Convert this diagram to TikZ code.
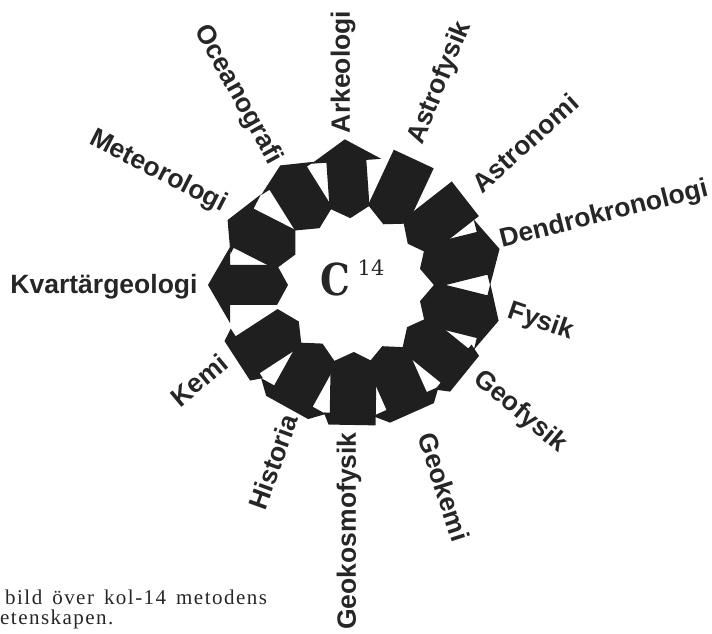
\documentclass[tikz,border=0pt]{standalone}
\usepackage{fontspec}
\usepackage{graphicx}
\setmainfont{Liberation Sans}
\newfontfamily\cfont{DejaVu Serif}
\newfontfamily\captionfont[LetterSpace=7]{Liberation Serif}
\newcommand{\widespaces}{\spaceskip=10pt\relax}
\begin{document}
\begin{tikzpicture}[x=1pt,y=1pt,
  blk/.style={fill=black!88, draw=none},
  lab/.style={font=\fontsize{26.5}{26.5}\selectfont\bfseries, inner sep=0pt, text=black!85},
  captext/.style={font=\captionfont\fontsize{21}{21}\selectfont, inner sep=0pt, anchor=base west, text=black!85}
]
\useasboundingbox (0,0) rectangle (712,634);
\coordinate (O) at (355,349);

% ring of arrow blocks (local x = radial, y = counter-clockwise)
\fill[blk,shift={(O)},rotate=94]  (67,0)--(78,20)--(124,20)--(124,35)--(146,0)--(124,-35)--(124,-20)--(78,-20)--cycle; % Arkeologi
\fill[blk,shift={(O)},rotate=65]  (67,0)--(78,22)--(139,22)--(139,-22)--(78,-22)--cycle; % Astrofysik
\fill[blk,shift={(O)},rotate=38]  (67,0)--(78,22)--(140,22)--(140,-22)--(78,-22)--cycle; % Astronomi
\fill[blk,shift={(O)},rotate=14]  (67,0)--(78,22)--(131,22)--(131,35)--(149,0)--(131,-33)--(131,-22)--(78,-22)--cycle; % Dendrokronologi
\fill[blk,shift={(O)},rotate=-14] (67,0)--(78,22)--(131,22)--(131,34)--(148,0)--(131,-34)--(131,-22)--(78,-22)--cycle; % Fysik
\fill[blk,shift={(O)},rotate=-39] (67,0)--(78,22)--(128,22)--(128,27)--(141,23)--(141,-23)--(128,-31)--(128,-22)--(78,-22)--cycle; % Geofysik
\fill[blk,shift={(O)},rotate=-66] (67,0)--(78,22)--(127,22)--(127,35)--(140,24)--(140,-24)--(127,-37)--(127,-22)--(78,-22)--cycle; % Geokemi
\fill[blk,shift={(O)},rotate=-91] (67,0)--(78,23)--(140,23)--(140,-24)--(128,-29)--(128,-23)--(78,-23)--cycle; % Geokosmofysik
\fill[blk,shift={(O)},rotate=-119](67,0)--(78,22)--(127,22)--(127,37)--(140,24)--(140,-24)--(127,-37)--(127,-22)--(78,-22)--cycle; % Historia
\fill[blk,shift={(O)},rotate=-147](67,0)--(78,22)--(128,22)--(128,28)--(140,23)--(140,-24)--(128,-31)--(128,-22)--(78,-22)--cycle; % Kemi
\fill[blk,shift={(O)},rotate=180] (67,0)--(78,20)--(125,20)--(125,38)--(147,0)--(125,-38)--(125,-20)--(78,-20)--cycle; % Kvartaergeologi
\fill[blk,shift={(O)},rotate=153] (67,0)--(78,22)--(125,22)--(125,29)--(143,0)--(125,-38)--(125,-22)--(78,-22)--cycle; % Meteorologi
\fill[blk,shift={(O)},rotate=122] (67,0)--(78,22)--(126,22)--(126,32)--(141,0)--(126,-31)--(126,-22)--(78,-22)--cycle; % Oceanografi

% centre text
\node[inner sep=0pt, text=black!85] (cc) at (335,355) {\cfont\bfseries\fontsize{44}{44}\selectfont\scalebox{0.85}[1]{C}};
\node[inner sep=0pt, text=black!85] (n14) at (371,366) {\cfont\fontsize{21}{21}\selectfont 14};

% labels
\node[lab, rotate=90]  (ark) at (343,562) {Arkeologi};
\node[lab, rotate=68]  (asf) at (440,551) {Astrofysik};
\node[lab, rotate=42]  (ast) at (525,491) {Astronomi};
\node[lab, rotate=14]  (den) at (604,419) {Dendrokronologi};
\node[lab, rotate=-19] (fys) at (541,312) {Fysik};
\node[lab, rotate=-40] (gef) at (520,222) {Geofysik};
\node[lab, rotate=-72] (gek) at (444,147) {Geokemi};
\node[lab, rotate=90]  (gkf) at (349,103) {Geokosmofysik};
\node[lab, rotate=70]  (his) at (273,172) {Historia};
\node[lab, rotate=40]  (kem) at (199,254) {Kemi};
\node[lab]             (kva) at (104,347) {Kvartärgeologi};
\node[lab, rotate=-27] (met) at (158,462) {Meteorologi};
\node[lab, rotate=-61] (oce) at (238,539) {Oceanografi};

% caption fragment
\node[captext] (cap1) at (5,29) {\widespaces bild över kol-14 metodens};
\node[captext] (cap2) at (0,9) {etenskapen.};
\end{tikzpicture}
\end{document}
